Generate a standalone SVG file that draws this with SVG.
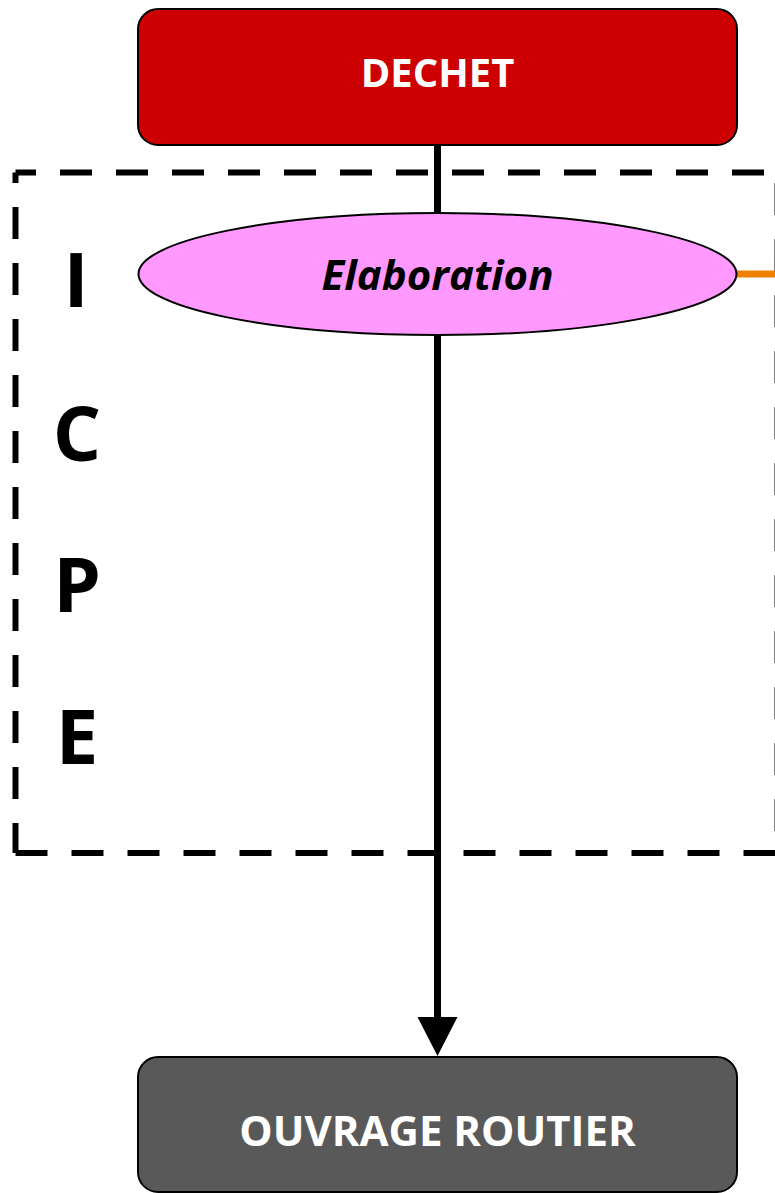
<svg xmlns="http://www.w3.org/2000/svg" width="775" height="1193" viewBox="0 0 775 1193">
<defs>
<style>
.box{stroke:#000;stroke-width:2}
.lbl{font-family:"Open Sans","Liberation Sans",sans-serif;font-weight:bold;fill:#fff;text-anchor:middle}
.dash{stroke:#000;stroke-width:6;stroke-dasharray:32 24;fill:none}
.big{font-family:"Open Sans","Liberation Sans",sans-serif;font-weight:bold;font-size:76px;fill:#000;text-anchor:middle}
</style>
</defs>
<g id="icpe-frame">
<line class="dash" x1="15.5" y1="172.5" x2="778" y2="172.5" stroke-dashoffset="11.5"/>
<line class="dash" x1="15.5" y1="172.5" x2="15.5" y2="853" stroke-dashoffset="21.5"/>
<line class="dash" x1="15.5" y1="853" x2="778" y2="853"/>
<line class="dash" x1="777.5" y1="172.5" x2="777.5" y2="853" stroke-dashoffset="45.5"/>
<text class="big" x="76" y="307">I</text>
<text class="big" x="77" y="461">C</text>
<text class="big" x="77" y="612">P</text>
<text class="big" x="77" y="764">E</text>
</g>
<g id="connectors">
<line x1="437.5" y1="145" x2="437.5" y2="1017" stroke="#000" stroke-width="7"/>
<path d="M417.5,1017 L457.5,1017 L437.5,1056 Z" fill="#000"/>
<line x1="735" y1="274" x2="775" y2="274" stroke="#F08000" stroke-width="7"/>
</g>
<g id="dechet">
<rect class="box" x="138" y="9" width="599" height="136" rx="20" fill="#CC0000"/>
<text class="lbl" x="437.5" y="87" font-size="40">DECHET</text>
</g>
<g id="elaboration">
<ellipse cx="437.5" cy="274" rx="299" ry="61" fill="#FF99FF" stroke="#000" stroke-width="2"/>
<text x="437.5" y="290" font-family="'Open Sans','Liberation Sans',sans-serif" font-weight="bold" font-style="italic" font-size="42" text-anchor="middle" fill="#000">Elaboration</text>
</g>
<g id="ouvrage">
<rect class="box" x="138" y="1057" width="599" height="135" rx="20" fill="#595959"/>
<text class="lbl" x="437.5" y="1146" font-size="42">OUVRAGE ROUTIER</text>
</g>
</svg>
